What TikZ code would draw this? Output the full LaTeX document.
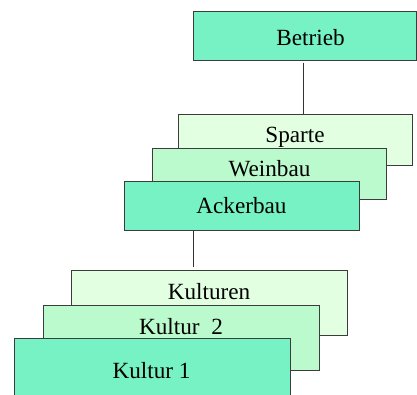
\documentclass[tikz,border=0pt]{standalone}
\usepackage{fontspec}
\setmainfont{Liberation Serif}
\definecolor{cdark}{RGB}{118,242,196}
\definecolor{cmid}{RGB}{187,250,204}
\definecolor{clight}{RGB}{226,255,226}
\definecolor{cedge}{RGB}{60,60,60}
\tikzset{
  card/.style={draw=cedge, line width=1pt, rectangle, inner sep=0pt, anchor=north west},
  lbl/.style={anchor=base, inner sep=0pt, font=\fontsize{23.2}{27}\selectfont},
  conn/.style={draw=black!80, line width=1pt}
}
\begin{document}
\begin{tikzpicture}[x=1pt, y=-1pt]
\useasboundingbox (0,0) rectangle (417,394);
\clip (0,0) rectangle (417,394);
% top
\node[card, fill=cdark, minimum width=223pt, minimum height=49pt] (betrieb) at (193,11) {};
\node[lbl] (tbetrieb) at (310.5,45) {Betrieb};
% middle stack
\node[card, fill=clight, minimum width=234pt, minimum height=51pt] (sparte) at (178,114) {};
\node[lbl] (tsparte) at (295,142) {Sparte};
\node[card, fill=cmid, minimum width=234pt, minimum height=51pt] (weinbau) at (152,148) {};
\node[lbl] (tweinbau) at (269.5,176.5) {Weinbau};
\node[card, fill=cdark, minimum width=235pt, minimum height=49pt] (acker) at (124,181) {};
\node[lbl] (tacker) at (241.5,213) {Ackerbau};
% bottom stack
\node[card, fill=clight, minimum width=276pt, minimum height=65pt] (kulturen) at (71,270) {};
\node[lbl] (tkulturen) at (209,299) {Kulturen};
\node[card, fill=cmid, minimum width=276pt, minimum height=65pt] (kultur2) at (43,305) {};
\node[lbl] (tkultur2) at (181,334) {Kultur~~2};
\node[card, fill=cdark, minimum width=276pt, minimum height=70pt] (kultur1) at (14,338) {};
\node[lbl] (tkultur1) at (151.5,378) {Kultur 1};
% connectors
\coordinate (c1) at (303.5,0);
\coordinate (c2) at (193,0);
\draw[conn, shorten <=1.5pt] (betrieb.south -| c1) -- (sparte.north -| c1);
\draw[conn, shorten >=3pt] (acker.south -| c2) -- (kulturen.north -| c2);
\end{tikzpicture}
\end{document}
